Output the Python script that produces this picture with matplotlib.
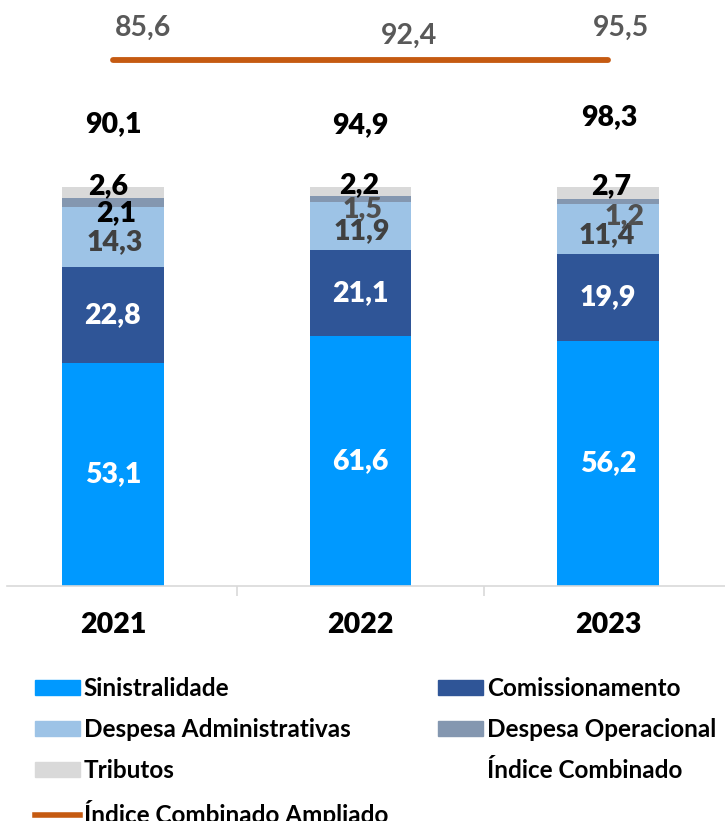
import numpy as np
import matplotlib
matplotlib.use("Agg")
import matplotlib.pyplot as plt
from matplotlib.patches import Patch
from matplotlib.lines import Line2D

plt.rcParams['font.family'] = ['Lato', 'DejaVu Sans']

years = ["2021", "2022", "2023"]
sinistralidade = [53.1, 61.6, 56.2]
comissionamento = [22.8, 21.1, 19.9]
desp_adm = [14.3, 11.9, 11.4]
desp_op = [2.1, 1.5, 1.2]
tributos = [2.6, 2.2, 2.7]
indice_combinado = [90.1, 94.9, 98.3]
indice_ampliado = [85.6, 92.4, 95.5]

series_names = ["Sinistralidade", "Comissionamento", "Despesa Administrativas",
                "Despesa Operacional", "Tributos"]
series_vals = [sinistralidade, comissionamento, desp_adm, desp_op, tributos]
colors = ["#0099FF", "#2F5597", "#9DC3E6", "#8497B0", "#D9D9D9"]
label_colors = [["white"] * 3, ["white"] * 3, ["#404040"] * 3,
                ["black", "#505050", "#505050"], ["black"] * 3]
# per-label pixel offsets (dx, dy) relative to segment centre
label_offsets = [
    [(0, 0), (0, 0), (0, 0)],
    [(0, 0), (0, 0), (0, 0)],
    [(2, -5), (1, -5), (-1, -6)],
    [(3, -11), (2, -10), (17, -15)],
    [(-5, 6), (-1, 6), (3, 7)],
]
W = "heavy"

fig = plt.figure(figsize=(7.25, 8.21), dpi=100)
ax = fig.add_axes([7 / 725, 1 - 586 / 821, 1 - 7 / 725, 586 / 821])

x = np.arange(len(years))
data = np.array(series_vals)
totals = data.sum(axis=0)
frac = data / totals
bottom = np.zeros(len(years))
width = 0.41
for i, name in enumerate(series_names):
    ax.bar(x, frac[i], width, bottom=bottom, color=colors[i], label=name, zorder=2)
    for j in range(len(years)):
        cy = bottom[j] + frac[i][j] / 2
        dx, dy = label_offsets[i][j]
        ax.annotate(f"{series_vals[i][j]:.1f}".replace(".", ","), (x[j], cy),
                    xytext=(dx, dy), textcoords="offset pixels",
                    ha="center", va="center", fontsize=20.5, fontweight=W,
                    color=label_colors[i][j], zorder=5)
    bottom += frac[i]

# Índice Combinado labels (no line)
ic_offsets = [(0, 63), (0, 62), (1, 70)]
for j, v in enumerate(indice_combinado):
    ax.annotate(f"{v:.1f}".replace(".", ","), (x[j], totals[j] / totals[j]),
                xytext=ic_offsets[j], textcoords="offset pixels",
                ha="center", va="center", fontsize=20.5, fontweight=W, color="black")

ax.set_xlim(-0.428, 2.473)
ax.set_ylim(0, 586 / 399)
for s in ["top", "right", "left"]:
    ax.spines[s].set_visible(False)
ax.spines["bottom"].set_color("#D9D9D9")
ax.spines["bottom"].set_linewidth(1.2)
ax.set_yticks([])
ax.set_xticks(x)
ax.set_xticklabels(years, fontsize=20.5, fontweight=W)
ax.tick_params(axis="x", which="major", length=0, pad=19)
ax.set_xticks([0.5, 1.5], minor=True)
ax.tick_params(axis="x", which="minor", length=7, color="#D9D9D9", width=1.2)

# Índice Combinado Ampliado on secondary axis (clipped flat in the original)
ax2 = ax.twinx()
ax2.set_ylim(0, 95.37)
ax2.axis("off")
amp = np.array(indice_ampliado)
ax2.plot(x, np.minimum(amp, amp.min()), color="#C55A11", lw=4.2,
         solid_capstyle="round", zorder=3)
amp_offsets = [(30, 32), (49, 24), (13, 32)]
for j, v in enumerate(indice_ampliado):
    ax2.annotate(f"{v:.1f}".replace(".", ","), (x[j], amp.min()),
                 xytext=amp_offsets[j], textcoords="offset pixels",
                 ha="center", va="center", fontsize=20.5, fontweight="bold",
                 color="#595959")

handles = [
    Patch(color=colors[0]), Patch(color=colors[2]), Patch(color=colors[4]),
    Line2D([], [], color="#C55A11", lw=4),
    Patch(color=colors[1]), Patch(color=colors[3]),
    Line2D([], [], linestyle="none"),
]
labels = ["Sinistralidade", "Despesa Administrativas", "Tributos",
          "Índice Combinado Ampliado", "Comissionamento", "Despesa Operacional",
          "Índice Combinado"]
fig.legend(handles, labels, ncol=2, loc="upper left", bbox_to_anchor=(35 / 725, 1 - 677 / 821),
           frameon=False, prop={"size": 17.5, "weight": "bold"},
           handlelength=1.85, handleheight=0.58, handletextpad=0.16,
           columnspacing=2.06, labelspacing=0.74, borderaxespad=0, borderpad=0)

fig.savefig("out.png", dpi=100)
